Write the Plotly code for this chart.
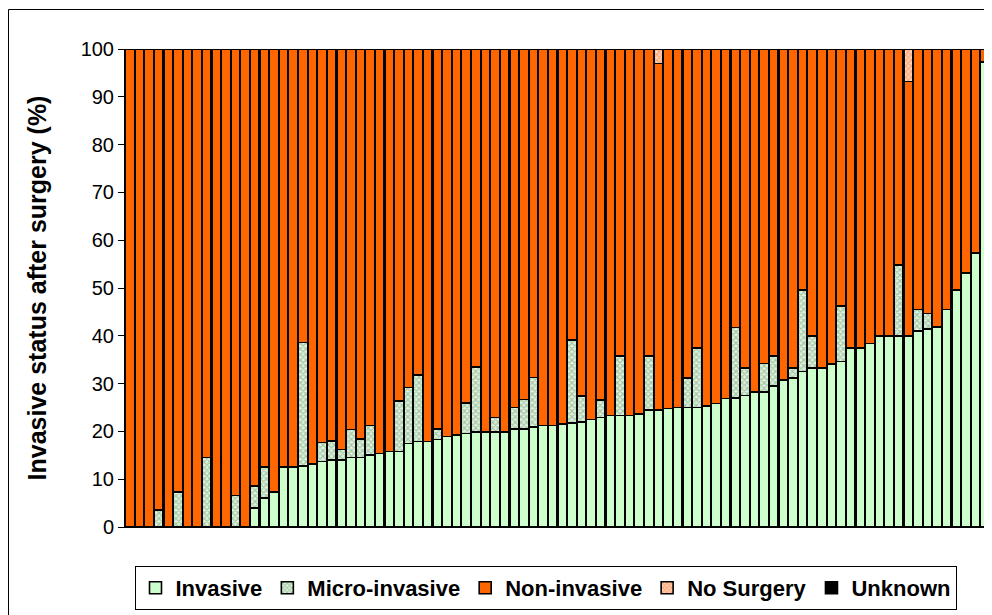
import plotly.graph_objects as go

# ---- data ----
cases = list(range(1, 91))

invasive = [
    0, 0, 0, 0, 0, 0, 0, 0, 0, 0,
    0, 0, 0, 4.0, 6.1, 7.3, 12.5, 12.5, 12.8, 13.2,
    13.7, 14.0, 14.0, 14.5, 14.5, 15.1, 15.4, 15.8, 15.8, 17.5,
    17.9, 17.9, 18.3, 18.9, 19.2, 19.6, 19.9, 19.9, 19.9, 19.9,
    20.5, 20.5, 20.9, 21.2, 21.2, 21.5, 21.7, 22.0, 22.5, 22.9,
    23.3, 23.3, 23.3, 23.6, 24.5, 24.5, 24.8, 25.0, 25.0, 25.0,
    25.3, 25.8, 26.9, 27.0, 27.5, 28.2, 28.2, 29.5, 30.8, 31.2,
    32.5, 33.3, 33.3, 34.1, 34.6, 37.5, 37.5, 38.4, 40.0, 40.0,
    40.0, 40.0, 41.0, 41.4, 41.8, 45.5, 49.6, 53.1, 57.3, 97.3,
]

micro_invasive = [
    0, 0, 0, 3.6, 0, 7.3, 0, 0, 14.5, 0,
    0, 6.6, 0, 4.6, 6.4, 0, 0, 0, 25.8, 0,
    4.0, 4.0, 2.2, 5.9, 3.9, 6.1, 0, 0, 10.6, 11.7,
    13.9, 0, 2.2, 0, 0, 6.3, 13.6, 0, 3.0, 0,
    4.5, 6.2, 10.4, 0, 0, 0, 17.4, 5.4, 0, 3.7,
    0, 12.5, 0, 0, 11.3, 0, 0, 0, 6.2, 12.5,
    0, 0, 0, 14.7, 5.8, 0, 6.0, 6.3, 0, 2.1,
    17.1, 6.7, 0, 0, 11.6, 0, 0, 0, 0, 0,
    14.8, 0, 4.5, 3.3, 0, 0, 0, 0, 0, 0,
]

non_invasive = [
    100, 100, 100, 96.4, 100, 92.7, 100, 100, 85.5, 100,
    100, 93.4, 100, 91.4, 87.5, 92.7, 87.5, 87.5, 61.4, 86.8,
    82.3, 82.0, 83.8, 79.6, 81.6, 78.8, 84.6, 84.2, 73.6, 70.8,
    68.2, 82.1, 79.5, 81.1, 80.8, 74.1, 66.5, 80.1, 77.1, 80.1,
    75.0, 73.3, 68.7, 78.8, 78.8, 78.5, 60.9, 72.6, 77.5, 73.4,
    76.7, 64.2, 76.7, 76.4, 64.2, 72.5, 75.2, 75.0, 68.8, 62.5,
    74.7, 74.2, 73.1, 58.3, 66.7, 71.8, 65.8, 64.2, 69.2, 66.7,
    50.4, 60.0, 66.7, 65.9, 53.8, 62.5, 62.5, 61.6, 60.0, 60.0,
    45.2, 53.2, 54.5, 55.3, 58.2, 54.5, 50.4, 46.9, 42.7, 2.7,
]

no_surgery = [0] * 90
no_surgery[55] = 3.0
no_surgery[81] = 6.8

unknown = [0] * 90

y_ticks = [0, 10, 20, 30, 40, 50, 60, 70, 80, 90, 100]

FONT = "Liberation Sans, Arial, sans-serif"
OUTLINE = dict(color="black", width=1.6)

fig = go.Figure()
fig.add_trace(go.Bar(
    x=cases, y=invasive, name="Invasive",
    marker=dict(color="#ccffcc", line=OUTLINE),
))
fig.add_trace(go.Bar(
    x=cases, y=micro_invasive, name="Micro-invasive",
    marker=dict(color="#bcd8bc", line=OUTLINE,
                pattern=dict(shape="x", size=4, solidity=0.5,
                             fgcolor="#6a9a6a", bgcolor="#dff2df")),
))
fig.add_trace(go.Bar(
    x=cases, y=non_invasive, name="Non-invasive",
    marker=dict(color="#ff6600", line=OUTLINE),
))
fig.add_trace(go.Bar(
    x=cases, y=no_surgery, name="No Surgery",
    marker=dict(color="#ffb080", line=OUTLINE,
                pattern=dict(shape="x", size=4, solidity=0.6,
                             fgcolor="#ff7a30", bgcolor="#ffd8c0")),
))
fig.add_trace(go.Bar(
    x=cases, y=unknown, name="Unknown",
    marker=dict(color="black", line=OUTLINE),
))

# page has an 8px body margin; positions below are given in page pixels
OFF = 8
W, H = 992, 615
L, R, T, B = 117, 10, 41, 96
pw = W - L - R
ph = H - T - B


def px_x(p):
    return (p - OFF - L) / pw


def px_y(p):
    return (H - B - (p - OFF)) / ph


fig.update_layout(
    width=W, height=H,
    margin=dict(l=L, r=R, t=T, b=B),
    barmode="stack",
    bargap=0.06,
    plot_bgcolor="white",
    paper_bgcolor="white",
    font=dict(family=FONT, color="black"),
    showlegend=True,
    legend=dict(
        orientation="h",
        x=px_x(545.5), xanchor="center",
        y=px_y(566), yanchor="top",
        bordercolor="black", borderwidth=1,
        font=dict(family=FONT, size=22, color="black", weight="bold"),
        traceorder="normal",
        itemwidth=30,
    ),
    xaxis=dict(
        range=[0.5, 90.5],
        showticklabels=False,
        ticks="",
        showgrid=False,
        zeroline=False,
        showline=True, linecolor="black", linewidth=1,
    ),
    yaxis=dict(
        range=[0, 100],
        tickvals=y_ticks,
        ticks="outside", ticklen=6, tickcolor="black",
        tickfont=dict(family=FONT, size=20, color="black"),
        showgrid=False,
        zeroline=False,
        showline=True, linecolor="black", linewidth=1,
        title=dict(text="Invasive status after surgery (%)",
                   font=dict(family=FONT, size=25, color="black", weight="bold"),
                   standoff=26),
    ),
    shapes=[dict(
        type="rect", xref="paper", yref="paper",
        x0=px_x(8.5), x1=px_x(1010), y0=px_y(640), y1=px_y(9.5),
        line=dict(color="black", width=1), fillcolor="rgba(0,0,0,0)",
        layer="below",
    )],
)

fig.write_html("out.html")
